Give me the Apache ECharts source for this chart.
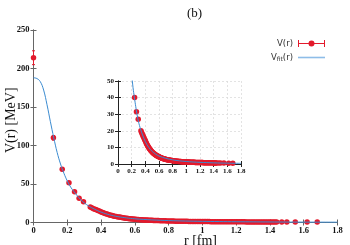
<!DOCTYPE html>
<html><head><meta charset="utf-8">
<script src="https://cdn.jsdelivr.net/npm/echarts@6/dist/echarts.min.js"></script>
<style>html,body{margin:0;padding:0;background:#fff}#c{width:350px;height:245px}</style>
</head><body><div id="c"></div>
<script>
// Lattice data V(r)
var rData = [0, 0.118, 0.170, 0.210, 0.243, 0.270, 0.296, 0.336, 0.345, 0.355, 0.364, 0.372, 0.381, 0.390, 0.398, 0.405, 0.413, 0.42, 0.428, 0.435, 0.443, 0.45, 0.458, 0.465, 0.473, 0.48, 0.49, 0.50, 0.508, 0.515, 0.523, 0.53, 0.538, 0.545, 0.553, 0.56, 0.568, 0.575, 0.583, 0.59, 0.598, 0.605, 0.613, 0.62, 0.628, 0.635, 0.643, 0.65, 0.658, 0.665, 0.673, 0.68, 0.688, 0.695, 0.703, 0.71, 0.718, 0.725, 0.733, 0.74, 0.75, 0.76, 0.77, 0.78, 0.79, 0.80, 0.81, 0.82, 0.83, 0.84, 0.85, 0.86, 0.87, 0.88, 0.89, 0.90, 0.91, 0.92, 0.93, 0.94, 0.95, 0.96, 0.97, 0.98, 0.99, 1.00, 1.01, 1.02, 1.03, 1.04, 1.05, 1.06, 1.07, 1.08, 1.09, 1.10, 1.11, 1.12, 1.13, 1.14, 1.15, 1.16, 1.17, 1.18, 1.19, 1.20, 1.21, 1.22, 1.23, 1.24, 1.25, 1.26, 1.27, 1.28, 1.29, 1.30, 1.31, 1.32, 1.33, 1.34, 1.35, 1.36, 1.37, 1.38, 1.39, 1.40, 1.41, 1.42, 1.43, 1.44, 1.47, 1.50, 1.55, 1.62, 1.68];
var vData = [214, 110, 69, 51.5, 40, 31.5, 27, 20, 19, 18, 17.2, 16.4, 15.6, 14.8, 14.1, 13.4, 12.7, 12.0, 11.4, 10.9, 10.4, 9.9, 9.4, 9.0, 8.6, 8.2, 7.7, 7.3, 7.0, 6.7, 6.4, 6.1, 5.9, 5.6, 5.4, 5.2, 5.0, 4.8, 4.6, 4.45, 4.3, 4.15, 4.0, 3.85, 3.7, 3.6, 3.5, 3.4, 3.3, 3.2, 3.1, 3.0, 2.92, 2.85, 2.78, 2.7, 2.63, 2.56, 2.5, 2.44, 2.36, 2.28, 2.2, 2.13, 2.06, 2.0, 1.94, 1.88, 1.83, 1.78, 1.73, 1.68, 1.64, 1.6, 1.56, 1.52, 1.48, 1.45, 1.42, 1.39, 1.36, 1.33, 1.3, 1.27, 1.25, 1.22, 1.2, 1.18, 1.16, 1.14, 1.12, 1.1, 1.08, 1.06, 1.04, 1.02, 1.0, 0.99, 0.97, 0.96, 0.94, 0.93, 0.91, 0.9, 0.89, 0.87, 0.86, 0.85, 0.84, 0.83, 0.82, 0.81, 0.8, 0.79, 0.78, 0.77, 0.76, 0.75, 0.74, 0.73, 0.72, 0.71, 0.7, 0.69, 0.68, 0.67, 0.66, 0.65, 0.64, 0.63, 0.61, 0.59, 0.56, 0.52, 0.49];
var vErr = [9, 3, 2, 1.5, 1.2, 1, 0.8];
// Fit curve V_fit(r)
var rFit = [0, 0.02, 0.04, 0.06, 0.08, 0.10, 0.12, 0.14, 0.16, 0.18, 0.20, 0.22, 0.24, 0.26, 0.28, 0.30, 0.33, 0.36, 0.40, 0.45, 0.50, 0.55, 0.60, 0.70, 0.80, 0.90, 1.00, 1.10, 1.20, 1.40, 1.60, 1.80];
var vFit = [188, 187, 183, 172, 153, 131, 110, 91, 76, 64, 54, 46, 40, 34.5, 29.5, 25.5, 21, 17.5, 13.5, 10, 7.6, 6.0, 4.8, 3.4, 2.5, 1.9, 1.5, 1.2, 1.0, 0.7, 0.5, 0.4];
var xTicksInterval = 0.2;

var pts = rData.map(function(r, i){ return [r, vData[i]]; });
var errPts = vErr.map(function(e, i){ return [rData[i], vData[i], e]; });
var fitPts = rFit.map(function(r, i){ return [r, vFit[i]]; });

var RED = '#e31a2c', BLUE = '#3b8bd0';
var serif = '"Liberation Serif", "DejaVu Serif", serif';
var chart = echarts.init(document.getElementById('c'), null, {renderer: 'canvas'});

function tickAxis(gridIndex, pos, type, min, max, interval, color, showLabel, fs, grid) {
  return {
    type: 'value', gridIndex: gridIndex, position: pos, min: min, max: max, interval: interval,
    axisLine: {show: true, lineStyle: {color: color, width: 1}},
    axisTick: {show: true, inside: true, length: 3, lineStyle: {color: color}},
    axisLabel: {show: showLabel, fontFamily: serif, fontWeight: 'bold', fontSize: fs, color: '#111', margin: 4},
    splitLine: {show: !!grid, lineStyle: {color: '#dcdcdc', type: [2, 2], width: 0.8}}
  };
}

var xMain = tickAxis(0, 'bottom', 'value', 0, 1.8, xTicksInterval, '#666', true, 8.5);
xMain.name = 'r [fm]'; xMain.nameLocation = 'middle'; xMain.nameGap = 12; xMain.nameMoveOverlap = false;
xMain.nameTextStyle = {fontFamily: serif, fontSize: 14, color: '#111', padding: [0, 0, 0, 30]};
var yMain = tickAxis(0, 'left', 'value', 0, 250, 50, '#666', true, 8.5);
yMain.name = 'V(r) [MeV]'; yMain.nameLocation = 'middle'; yMain.nameGap = 15; yMain.nameMoveOverlap = false;
yMain.nameTextStyle = {fontFamily: serif, fontSize: 14, color: '#111', padding: [0, 0, 0, 12]};

var errRender = function(params, api) {
  var x = api.value(0), y = api.value(1), e = api.value(2);
  var p1 = api.coord([x, y + e]), p2 = api.coord([x, y - e]);
  var st = {stroke: RED, lineWidth: 1};
  return {type: 'group', children: [
    {type: 'line', shape: {x1: p1[0], y1: p1[1], x2: p2[0], y2: p2[1]}, style: st},
    {type: 'line', shape: {x1: p1[0] - 1.5, y1: p1[1], x2: p1[0] + 1.5, y2: p1[1]}, style: st},
    {type: 'line', shape: {x1: p2[0] - 1.5, y1: p2[1], x2: p2[0] + 1.5, y2: p2[1]}, style: st}
  ]};
};

var option = {
  animation: false,
  backgroundColor: '#fff',
  title: {text: '(b)', left: 182, top: 2, textStyle: {fontFamily: serif, fontSize: 13, fontWeight: 'normal', color: '#111'}},
  legend: {
    orient: 'vertical', right: 20, top: 34, align: 'right', itemGap: 5, itemWidth: 27, itemHeight: 7,
    textStyle: {fontFamily: '"DejaVu Sans", sans-serif', fontSize: 8.5, color: '#333',
      rich: {s: {fontSize: 6, verticalAlign: 'bottom', padding: [4, 0, 0, 0], color: '#333'}, n: {fontSize: 8.5, color: '#333'}}},
    formatter: function(name){ return name === 'V(r)' ? 'V(r)' : '{n|V}{s|fit}{n|(r)}'; },
    data: [
      {name: 'V(r)', icon: 'path://M0,0h1v7h-1z M26,0h1v7h-1z M0,3h27v1h-27z M16.5,3.5a3,3 0 1,1 -6,0a3,3 0 1,1 6,0z', itemStyle: {color: RED}},
      {name: 'Vfit', icon: 'path://M0,2.8h27v1.6h-27z', itemStyle: {color: '#8ebde8'}}
    ]
  },
  grid: [
    {left: 33.5, right: 12.5, top: 30, bottom: 22.5, containLabel: false, outerBoundsMode: 'none'},
    {left: 118, top: 81, width: 123, height: 83, containLabel: false, outerBoundsMode: 'none'}
  ],
  xAxis: [
    xMain,
    tickAxis(0, 'top', 'value', 0, 1.8, xTicksInterval, '#666', false, 8),
    tickAxis(1, 'bottom', 'value', 0, 1.8, xTicksInterval, '#222', true, 7, true),
    tickAxis(1, 'top', 'value', 0, 1.8, xTicksInterval, '#222', false, 7)
  ],
  yAxis: [
    yMain,
    tickAxis(0, 'right', 'value', 0, 250, 50, '#666', false, 8),
    tickAxis(1, 'left', 'value', 0, 50, 10, '#222', true, 7, true),
    tickAxis(1, 'right', 'value', 0, 50, 10, '#222', false, 7)
  ],
  series: [
    {name: 'V(r)', type: 'custom', xAxisIndex: 0, yAxisIndex: 0, renderItem: errRender, data: errPts, z: 2},
    {name: 'V(r)', type: 'scatter', xAxisIndex: 0, yAxisIndex: 0, data: pts, symbolSize: 5.5, itemStyle: {color: RED, opacity: 1}, z: 3},
    {name: 'Vfit', type: 'line', xAxisIndex: 0, yAxisIndex: 0, data: fitPts, smooth: 0.4, showSymbol: false, symbol: 'none', lineStyle: {color: BLUE, width: 1}, itemStyle: {color: '#8ebde8'}, z: 4},
    {name: 'V(r)', type: 'scatter', xAxisIndex: 2, yAxisIndex: 2, data: pts, symbolSize: 5.5, itemStyle: {color: RED, opacity: 1}, z: 3},
    {name: 'Vfit', type: 'line', xAxisIndex: 2, yAxisIndex: 2, data: fitPts, smooth: 0.4, showSymbol: false, symbol: 'none', clip: true, lineStyle: {color: BLUE, width: 1}, z: 4}
  ]
};
chart.setOption(option);
</script></body></html>
